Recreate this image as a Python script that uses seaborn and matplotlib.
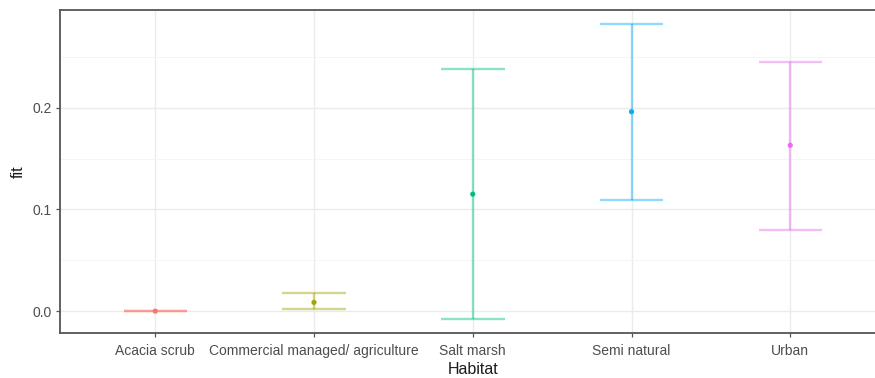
import matplotlib
matplotlib.use("Agg")
import matplotlib.pyplot as plt
from matplotlib.ticker import MultipleLocator
import seaborn as sns
import pandas as pd

habitats = ["Acacia scrub", "Commercial managed/ agriculture", "Salt marsh",
            "Semi natural", "Urban"]
fit = [0.0, 0.0086, 0.115, 0.196, 0.163]
lower = [0.0, 0.0017, -0.008, 0.109, 0.080]
upper = [0.0, 0.0174, 0.238, 0.282, 0.245]
colors = ["#F8766D", "#A3A500", "#00BF7D", "#00B0F6", "#E76BF3"]

df = pd.DataFrame({"Habitat": habitats, "fit": fit, "lower": lower, "upper": upper})

sns.set_theme(style="white")
plt.rcParams["font.family"] = ["Liberation Sans", "DejaVu Sans"]

fig = plt.figure(figsize=(8.75, 3.78), dpi=100)
ax = fig.add_axes([60 / 875, 1 - 333 / 378, 825.5 / 875, 323 / 378])

# gridlines (major + minor), drawn beneath data
ax.set_axisbelow(True)
ax.yaxis.set_major_locator(MultipleLocator(0.1))
ax.yaxis.set_minor_locator(MultipleLocator(0.05))
ax.grid(True, which="major", color="#EBEBEB", lw=1.0)
ax.grid(True, which="minor", axis="y", color="#F4F4F4", lw=0.6)

# error bars: vertical stems and caps 0.4 category units wide
for i, row in df.iterrows():
    c = colors[i]
    ax.vlines(i, row["lower"], row["upper"], color=c, alpha=0.45, lw=1.7, zorder=2)
    ax.hlines([row["lower"], row["upper"]], i - 0.2, i + 0.2, color=c,
              alpha=0.45, lw=1.7, zorder=2)

sns.scatterplot(data=df, x="Habitat", y="fit", hue="Habitat", palette=colors,
                s=14, edgecolor="none", legend=False, ax=ax, zorder=3)

ax.set_xlim(-0.6, 4.6)
ax.set_ylim(-0.0215, 0.296)

for s in ax.spines.values():
    s.set_color("#555555")
    s.set_linewidth(1.3)

ax.tick_params(axis="both", which="major", length=3, width=0.9, color="#555555",
               labelsize=10, labelcolor="#4D4D4D", bottom=True, left=True)
ax.tick_params(axis="x", pad=5)
ax.tick_params(axis="y", pad=3)
ax.tick_params(axis="y", which="minor", length=0)
ax.set_yticks([0.0, 0.1, 0.2])
ax.set_yticklabels(["0.0", "0.1", "0.2"])

ax.set_xlabel("Habitat", fontsize=11.5, color="#1A1A1A", labelpad=3)
ax.set_ylabel("fit", fontsize=11.5, color="#1A1A1A", labelpad=5)

fig.savefig("out.png", dpi=100, facecolor="white")
